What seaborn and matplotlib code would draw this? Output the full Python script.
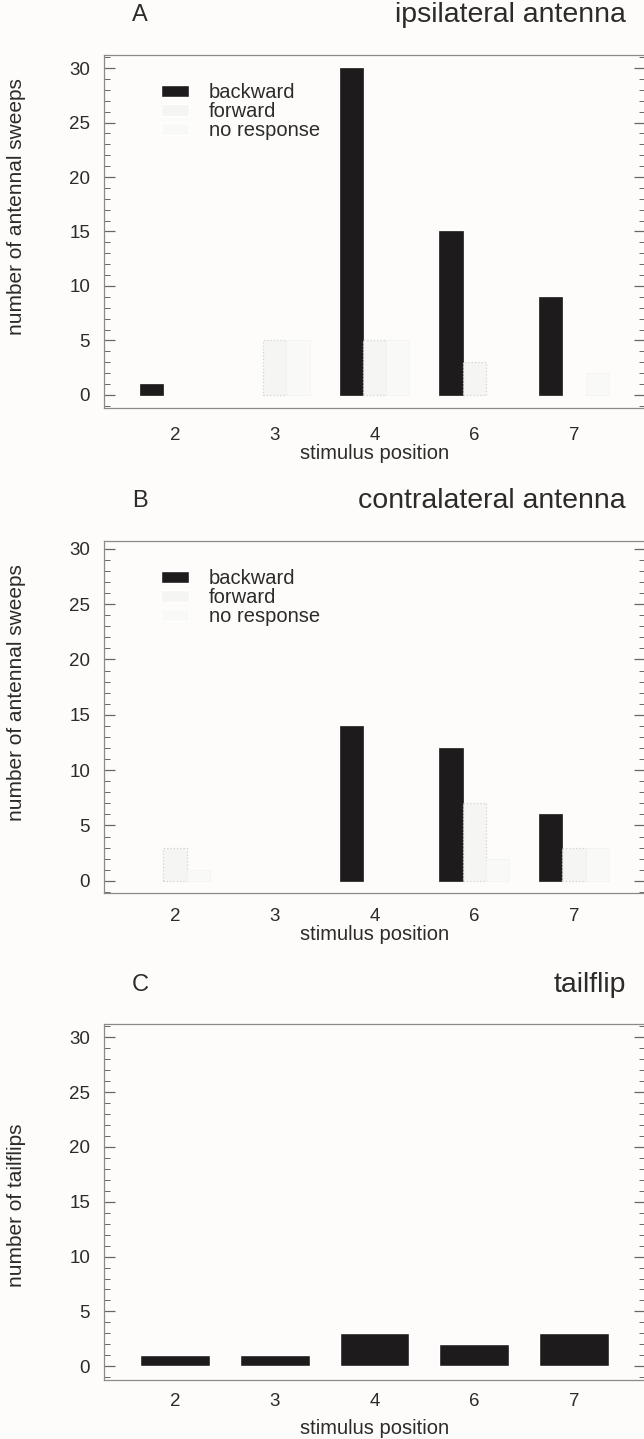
import numpy as np
import pandas as pd
import matplotlib
matplotlib.use('Agg')
import matplotlib.pyplot as plt
import seaborn as sns
from matplotlib.ticker import MultipleLocator

# ---------------- data ----------------
positions = ['2', '3', '4', '6', '7']
responses = ['backward', 'forward', 'no response']

ipsi_backward = [1, 0, 30, 15, 9]
ipsi_forward = [0, 5, 5, 3, 0]
ipsi_none = [0, 5, 5, 0, 2]

contra_backward = [0, 0, 14, 12, 6]
contra_forward = [3, 0, 0, 7, 3]
contra_none = [1, 0, 0, 2, 3]

tailflips = [1, 1, 3, 2, 3]

panel_letters = ['A', 'B', 'C']
panel_titles = ['ipsilateral antenna', 'contralateral antenna', 'tailflip']
y_labels = ['number of antennal sweeps', 'number of antennal sweeps', 'number of tailflips']


def long_table(backward, forward, none):
    rows = []
    for name, vals in zip(responses, [backward, forward, none]):
        for p, v in zip(positions, vals):
            rows.append({'position': p, 'response': name, 'count': v})
    return pd.DataFrame(rows)


df_ipsi = long_table(ipsi_backward, ipsi_forward, ipsi_none)
df_contra = long_table(contra_backward, contra_forward, contra_none)
df_tail = pd.DataFrame({'position': positions, 'count': tailflips})

# ---------------- style ----------------
sns.set_theme(style='ticks')
plt.rcParams['font.family'] = ['Liberation Sans', 'DejaVu Sans']
BG = '#fdfcfa'
INK = '#2b2b2b'
BAR = '#1d1b1b'
palette = {'backward': BAR, 'forward': '#f5f5f4', 'no response': '#f9f9f8'}

W, H = 644, 1439
fig = plt.figure(figsize=(W / 100, H / 100), dpi=100, facecolor=BG)

# axes boxes in pixels: (left, top, right, bottom)
boxes = [(104, 55, 645, 408), (104, 541, 645, 893), (104, 1024, 645, 1380)]
ylims = [(-1.2, 31.2), (-1.1, 30.7), (-1.25, 31.2)]
title_y = [15, 501, 985]
ylabel_y = [0.57, 0.57, 0.49]
xtick_pad = [14, 11, 9]
xlabel_pad = [0, 0, 7]

axes = []
for (l, t, r, b) in boxes:
    axes.append(fig.add_axes([l / W, 1 - b / H, (r - l) / W, (b - t) / H]))

# panel A and B: grouped bars
for ax, df in zip(axes[:2], [df_ipsi, df_contra]):
    sns.barplot(data=df, x='position', y='count', hue='response',
                order=positions, hue_order=responses, palette=palette,
                width=0.7, saturation=1, errorbar=None, ax=ax)
    for cont, name in zip(ax.containers, responses):
        for patch in cont:
            if patch.get_height() == 0:
                patch.set_linewidth(0)
                continue
            if name == 'backward':
                patch.set_edgecolor(BAR)
                patch.set_linewidth(0.5)
            elif name == 'forward':
                patch.set_edgecolor('#d2d2d2')
                patch.set_linestyle(':')
                patch.set_linewidth(0.9)
            else:
                patch.set_edgecolor('#f2f2f2')
                patch.set_linewidth(0.5)
    sns.move_legend(ax, 'upper left', bbox_to_anchor=(0.105, 0.92),
                    frameon=False, title=None, fontsize=14.5,
                    handlelength=1.4, handleheight=0.55, handletextpad=1.0,
                    labelspacing=0.0, borderaxespad=0, borderpad=0)
    for txt in ax.get_legend().get_texts():
        txt.set_color(INK)

# panel C: single series
sns.barplot(data=df_tail, x='position', y='count', order=positions,
            color=BAR, width=0.7, saturation=1, errorbar=None, ax=axes[2])

for i, ax in enumerate(axes):
    ax.set_facecolor(BG)
    ax.set_xlim(-0.71, 4.71)
    ax.set_ylim(*ylims[i])
    ax.yaxis.set_major_locator(MultipleLocator(5))
    ax.yaxis.set_minor_locator(MultipleLocator(1))
    ax.tick_params(axis='y', which='both', direction='in', left=True, right=True,
                   colors='#666666', labelcolor=INK, labelsize=13.5, pad=10)
    ax.tick_params(axis='y', which='major', length=8, width=0.9)
    ax.tick_params(axis='y', which='minor', length=4, width=0.7)
    ax.tick_params(axis='x', length=0, pad=xtick_pad[i], labelcolor=INK, labelsize=13.5)
    for sp in ax.spines.values():
        sp.set_visible(True)
        sp.set_color('#8a8a8a')
        sp.set_linewidth(0.9)
    ax.set_xlabel('stimulus position', fontsize=14.5, color=INK, labelpad=xlabel_pad[i])
    ax.set_ylabel(y_labels[i], fontsize=15, color=INK)
    ax.yaxis.set_label_coords(-0.145, ylabel_y[i])
    fig.text(140 / W, 1 - title_y[i] / H, panel_letters[i], ha='center', va='center',
             fontsize=17, color=INK)
    fig.text(626 / W, 1 - title_y[i] / H, panel_titles[i], ha='right', va='center',
             fontsize=20.5, color=INK)

fig.savefig('out.png', dpi=100, facecolor=BG)
